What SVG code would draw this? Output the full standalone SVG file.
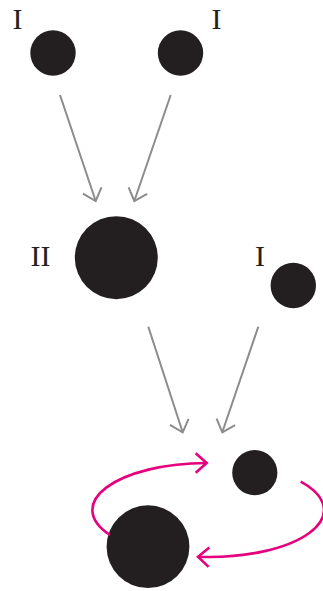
<svg xmlns="http://www.w3.org/2000/svg" width="323" height="591" viewBox="0 0 323 591">
<style>
.n{fill:#231f20}
.lbl{font-family:"Liberation Serif","Times New Roman",serif;font-size:30px;fill:#231f20}
.g{stroke:#8c8c8c;stroke-width:2;fill:none}
.p{stroke:#e6007e;stroke-width:2.6;fill:none}
</style>
<defs>
<marker id="ag" markerUnits="userSpaceOnUse" viewBox="-13 -12 15 24" markerWidth="15" markerHeight="24" refX="0" refY="0" orient="auto">
<path d="M-11,-9.8 L0,0 L-11,9.8" fill="none" stroke="#8c8c8c" stroke-width="2"/>
</marker>
<marker id="ap" markerUnits="userSpaceOnUse" viewBox="-13 -12 15 24" markerWidth="15" markerHeight="24" refX="0" refY="0" orient="auto">
<path d="M-11,-9.7 L0,0 L-11,9.7" fill="none" stroke="#e6007e" stroke-width="2.6"/>
</marker>
</defs>
<g id="n1"><circle class="n" cx="53" cy="53" r="22.7"/><text class="lbl" x="12.5" y="29">I</text></g>
<g id="n2"><circle class="n" cx="180.5" cy="53" r="22.7"/><text class="lbl" x="211.5" y="29">I</text></g>
<g id="n3"><circle class="n" cx="116.3" cy="257.7" r="41.5"/><text class="lbl" x="30.5" y="266">II</text></g>
<g id="n4"><circle class="n" cx="293.3" cy="285.5" r="22.7"/><text class="lbl" x="255" y="266">I</text></g>
<g id="n5"><circle class="n" cx="254.8" cy="472.7" r="22.6"/></g>
<g id="n6"><circle class="n" cx="148" cy="546.7" r="41.4"/></g>
<g id="connectors">
<line class="g" x1="60" y1="95" x2="95.7" y2="201" marker-end="url(#ag)"/>
<line class="g" x1="170.7" y1="95" x2="134.3" y2="201" marker-end="url(#ag)"/>
<line class="g" x1="148.3" y1="326.7" x2="182.7" y2="432.3" marker-end="url(#ag)"/>
<line class="g" x1="258.3" y1="326.7" x2="222.3" y2="432.3" marker-end="url(#ag)"/>
<path class="p" d="M110,535 A115,47 0 0 1 206.7,463" marker-end="url(#ap)"/>
<path class="p" d="M300.7,481.7 A115,47 0 0 1 198,556.8" marker-end="url(#ap)"/>
</g>
</svg>
